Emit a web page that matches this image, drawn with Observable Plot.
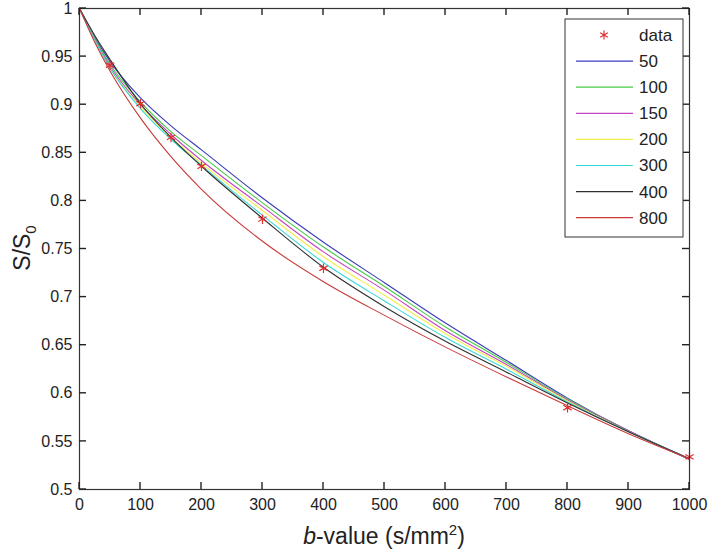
<!DOCTYPE html>
<html>
<head>
<meta charset="utf-8">
<script src="https://cdn.jsdelivr.net/npm/d3@7"></script>
<script src="https://cdn.jsdelivr.net/npm/@observablehq/plot@0.6"></script>
<style>
  body { margin: 0; background: #fff; }
  #chart { position: relative; width: 709px; height: 552px; }
</style>
</head>
<body>
<div id="chart"></div>
<script>
// ---- data ----
const bValues = [0, 25, 50, 100, 150, 200, 300, 400, 500, 600, 700, 800, 900, 1000];
const fit50  = [1, 0.970, 0.945, 0.907, 0.878, 0.853, 0.803, 0.757, 0.715, 0.673, 0.634, 0.595, 0.561, 0.532];
const fit100 = [1, 0.969, 0.942, 0.903, 0.872, 0.847, 0.798, 0.752, 0.711, 0.669, 0.632, 0.594, 0.561, 0.531];
const fit150 = [1, 0.968, 0.940, 0.900, 0.869, 0.842, 0.794, 0.747, 0.707, 0.665, 0.630, 0.593, 0.561, 0.531];
const fit200 = [1, 0.967, 0.938, 0.898, 0.866, 0.839, 0.790, 0.742, 0.702, 0.662, 0.628, 0.592, 0.560, 0.532];
const fit300 = [1, 0.967, 0.938, 0.896, 0.864, 0.837, 0.785, 0.736, 0.696, 0.658, 0.625, 0.591, 0.560, 0.532];
const fit400 = [1, 0.972, 0.947, 0.901, 0.866, 0.836, 0.782, 0.731, 0.690, 0.654, 0.622, 0.590, 0.560, 0.532];
const fit800 = [1, 0.965, 0.935, 0.886, 0.846, 0.812, 0.758, 0.716, 0.681, 0.648, 0.617, 0.587, 0.558, 0.532];

const dataB = [50, 100, 150, 200, 300, 400, 800, 1000];
const dataS = [0.941, 0.901, 0.866, 0.836, 0.781, 0.730, 0.585, 0.534];

const seriesNames = ["50", "100", "150", "200", "300", "400", "800"];
const seriesValues = [fit50, fit100, fit150, fit200, fit300, fit400, fit800];
const seriesColors = ["#3c3cbc", "#44cc44", "#c444c4", "#f0ee48", "#38d8d8", "#303030", "#c83a3a"];

const xTicks = [0, 100, 200, 300, 400, 500, 600, 700, 800, 900, 1000];
const yTicks = [0.5, 0.55, 0.6, 0.65, 0.7, 0.75, 0.8, 0.85, 0.9, 0.95, 1];

// ---- build table ----
const lines = [];
seriesNames.forEach((name, i) => {
  bValues.forEach((b, j) => lines.push({series: name, b, s: seriesValues[i][j]}));
});
const points = dataB.map((b, i) => ({b, s: dataS[i]}));

const font = "'Liberation Sans', Arial, sans-serif";
const W = 709, H = 552, mL = 79, mR = 20, mT = 8, mB = 63;
const tickLen = 7;

const plot = Plot.plot({
  width: W,
  height: H,
  marginLeft: mL,
  marginRight: mR,
  marginTop: mT,
  marginBottom: mB,
  style: {fontFamily: font, fontSize: "16px", color: "#222", background: "#fff"},
  x: {domain: [0, 1000], label: null},
  y: {domain: [0.5, 1], label: null},
  color: {domain: seriesNames, range: seriesColors},
  marks: [
    Plot.line(lines, {x: "b", y: "s", z: "series", stroke: "series", strokeWidth: 1.1, curve: "monotone-x"}),
    Plot.dot(points, {x: "b", y: "s", symbol: "asterisk", r: 4.5, stroke: "#e03030", strokeWidth: 1.2}),
    Plot.frame({stroke: "#333", strokeWidth: 1.2}),
    // tick labels
    Plot.axisX(xTicks, {anchor: "bottom", tickSize: 0, tickPadding: 9, label: null, fontSize: 16, fill: "#222", tickFormat: d => String(d)}),
    Plot.axisY(yTicks, {anchor: "left", tickSize: 0, tickPadding: 7, label: null, fontSize: 16, fill: "#222", tickFormat: d => String(d)})
  ]
});

document.getElementById("chart").appendChild(plot);

const svg = d3.select(plot);
const sx = plot.scale("x"), sy = plot.scale("y");
const xs = d3.scaleLinear(sx.domain, sx.range);
const ys = d3.scaleLinear(sy.domain, sy.range);
const x0 = sx.range[0], x1 = sx.range[1];
const yBottom = Math.max(...sy.range), yTop = Math.min(...sy.range);

// inward ticks on all four sides (positions from Plot's scales)
const tg = svg.append("g");
function tick(xa, ya, xb, yb) {
  tg.append("line")
    .attr("x1", xa).attr("y1", ya).attr("x2", xb).attr("y2", yb)
    .style("stroke", "#222").style("stroke-width", "1.4px");
}
xTicks.forEach(t => {
  const px = xs(t);
  tick(px, yBottom, px, yBottom - tickLen);
  tick(px, yTop, px, yTop + tickLen);
});
yTicks.forEach(t => {
  const py = ys(t);
  tick(x0, py, x0 + tickLen, py);
  tick(x1, py, x1 - tickLen, py);
});

// x-axis title
const xt = svg.append("text")
  .attr("x", 384).attr("y", 544)
  .attr("text-anchor", "middle")
  .style("font-family", font).style("font-size", "23px").attr("fill", "#222");
xt.append("tspan").style("font-style", "italic").text("b");
xt.append("tspan").text("-value (s/mm");
xt.append("tspan").attr("dy", -9).style("font-size", "15px").text("2");
xt.append("tspan").attr("dy", 9).text(")");

// y-axis title
const yt = svg.append("text")
  .attr("transform", "translate(30,248) rotate(-90)")
  .attr("text-anchor", "middle")
  .style("font-family", font).style("font-size", "23px").attr("fill", "#222");
yt.append("tspan").text("S/S");
yt.append("tspan").attr("dy", 6).style("font-size", "15px").text("0");

// legend (inset box)
const lg = svg.append("g").attr("text-anchor", "start");
lg.append("rect").attr("x", 565).attr("y", 19).attr("width", 118).attr("height", 218)
  .attr("fill", "#fff").attr("stroke", "#333").attr("stroke-width", 1);
const rowH = 26.1;
const row0 = 35;
// data entry
{
  const cx = 604, cy = row0;
  const r = 4.5;
  for (let k = 0; k < 3; k++) {
    const a = Math.PI / 2 + k * Math.PI / 3;
    lg.append("line")
      .attr("x1", cx + r * Math.cos(a)).attr("y1", cy + r * Math.sin(a))
      .attr("x2", cx - r * Math.cos(a)).attr("y2", cy - r * Math.sin(a))
      .attr("stroke", "#e03030").attr("stroke-width", 1.2);
  }
  lg.append("text").attr("x", 639).attr("y", row0).attr("dy", "0.35em").attr("text-anchor", "start")
    .style("font-family", font).style("font-size", "17px").attr("fill", "#222").text("data");
}
seriesNames.forEach((name, i) => {
  const y = row0 + (i + 1) * rowH;
  lg.append("line").attr("x1", 576).attr("x2", 633).attr("y1", y).attr("y2", y)
    .attr("stroke", seriesColors[i]).attr("stroke-width", 1.2);
  lg.append("text").attr("x", 639).attr("y", y).attr("dy", "0.35em").attr("text-anchor", "start")
    .style("font-family", font).style("font-size", "17px").attr("fill", "#222").text(name);
});
</script>
</body>
</html>
